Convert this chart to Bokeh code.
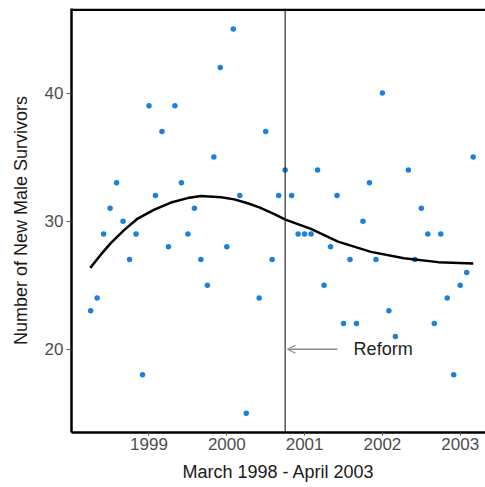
import numpy as np
from bokeh.plotting import figure
from bokeh.models import ColumnDataSource, Span, Arrow, OpenHead, Label, Range1d, FixedTicker
from bokeh.embed import file_html
from bokeh.resources import INLINE

# monthly counts, first plotted month is April 1998 (NaN = not shown)
survivors = [23, 24, 29, 31, 33, 30, 27, 29, 18, 39,
             32, 37, 28, 39, 33, 29, 31, 27, 25, 35,
             42, 28, 45, 32, 15, np.nan, 24, 37, 27, 32,
             34, 32, 29, 29, 29, 34, 25, 28, 32, 22,
             27, 22, 30, 33, 27, 40, 23, 21, np.nan, 34,
             27, 31, 29, 22, 29, 24, 18, 25, 26, 35]
start_year = 1998.25

# smoothed trend (decimal year, value)
trend_t = [1998.245, 1998.383, 1998.512, 1998.679, 1998.855, 1999.068, 1999.283,
           1999.497, 1999.668, 1999.925, 2000.096, 2000.269, 2000.418, 2000.611,
           2000.761, 2001.082, 2001.429, 2001.853, 2002.278, 2002.715, 2003.168]
trend_v = [26.35, 27.4, 28.3, 29.3, 30.2, 30.9, 31.45,
           31.8, 31.97, 31.87, 31.7, 31.4, 31.07, 30.55,
           30.1, 29.4, 28.4, 27.6, 27.1, 26.8, 26.7]

year_ticks = [1999, 2000, 2001, 2002, 2003]
y_ticks = [20, 30, 40]
reform_date = 2000.75

FONT = "Liberation Sans"

t = start_year + np.arange(len(survivors)) / 12.0
src = ColumnDataSource(data=dict(t=t, v=np.array(survivors, dtype=float)))

p = figure(width=485, height=487, output_backend="svg", toolbar_location=None,
           x_range=Range1d(1998.004, 2003.325), y_range=Range1d(13.5, 46.6),
           min_border_left=71, min_border_top=8, min_border_right=0, min_border_bottom=55)
p.background_fill_color = "white"
p.border_fill_color = "white"
p.outline_line_color = None
p.xgrid.visible = False
p.ygrid.visible = False

p.scatter(x="t", y="v", source=src, size=5.5, color="#1f80dc", line_color=None)
p.line(trend_t, trend_v, line_color="black", line_width=2.5)

# reform marker
p.add_layout(Span(location=reform_date, dimension="height", line_color="#2b2b2b", line_width=1.2))
p.add_layout(Arrow(end=OpenHead(size=8, line_color="#8c8c8c", line_width=1.3),
                   x_start=2001.42, y_start=20.0, x_end=reform_date + 0.03, y_end=20.0,
                   line_color="#8c8c8c", line_width=1.3))
p.add_layout(Label(x=2001.63, y=20.0, text="Reform", text_baseline="middle",
                   text_font=FONT, text_font_size="18px", text_color="#222222"))

# top frame line
p.add_layout(Span(location=46.5, dimension="width", line_color="black", line_width=2.5))

for ax in (p.xaxis, p.yaxis):
    ax.axis_line_color = "black"
    ax.axis_line_width = 2.5
    ax.major_tick_line_color = "#555555"
    ax.minor_tick_line_color = None
    ax.major_tick_in = 0
    ax.major_label_text_font = FONT
    ax.major_label_text_font_size = "17px"
    ax.major_label_text_color = "#4d4d4d"
    ax.axis_label_text_font = FONT
    ax.axis_label_text_font_size = "18px"
    ax.axis_label_text_font_style = "normal"
    ax.axis_label_text_color = "#1a1a1a"

p.xaxis.ticker = FixedTicker(ticks=year_ticks)
p.xaxis.major_tick_out = 3
p.xaxis.major_label_standoff = 2
p.xaxis.axis_label_standoff = 9
p.xaxis.axis_label = "March 1998 - April 2003"

p.yaxis.ticker = FixedTicker(ticks=y_ticks)
p.yaxis.major_tick_out = 5
p.yaxis.major_label_standoff = 3
p.yaxis.axis_label_standoff = 11
p.yaxis.axis_label = "Number of New Male Survivors"

open("out.html", "w").write(file_html(p, INLINE))
